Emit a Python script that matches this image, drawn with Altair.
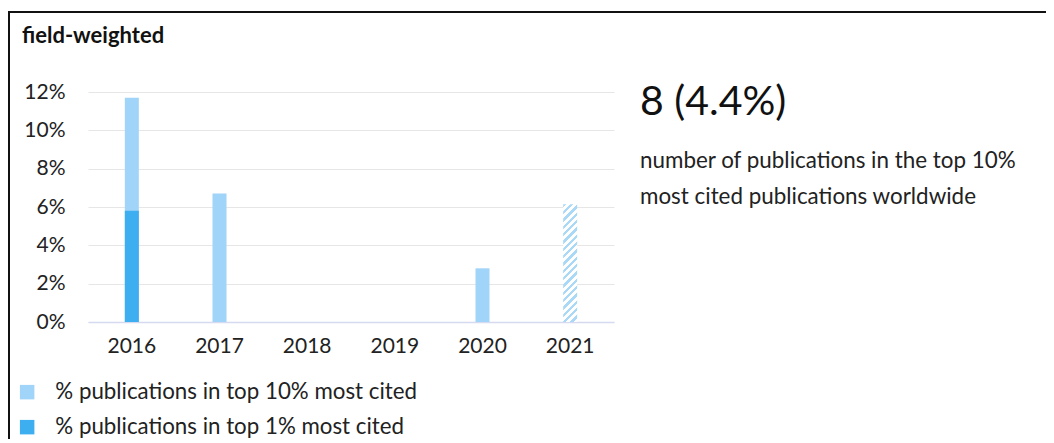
import altair as alt
import pandas as pd

years = ["2016", "2017", "2018", "2019", "2020", "2021"]
top10 = [11.7, 6.7, 0.0, 0.0, 2.8, 6.15]
top1 = [5.8, 0.0, 0.0, 0.0, 0.0, 0.0]
partial = [False, False, False, False, False, True]
series_keys = ["top10", "top1"]
series_names = ["% publications in top 10% most cited", "% publications in top 1% most cited"]
series_colors = ["#a0d4f8", "#3daef0"]
y_ticks = [0, 2, 4, 6, 8, 10, 12]
title_text = "field-weighted"
headline = "8 (4.4%)"
description = ["number of publications in the top 10%", "most cited publications worldwide"]

FONT = "Lato"

rows = []
for i, yr in enumerate(years):
    rows.append({"year": yr, "kind": "top10", "series": series_names[0], "value": top10[i], "partial": partial[i]})
    rows.append({"year": yr, "kind": "top1", "series": series_names[1], "value": top1[i], "partial": partial[i]})
df = pd.DataFrame(rows)

# hatched fill via hard-stop linear gradient
stops = []
n = 18
for k in range(n):
    a = k / n
    b = (k + 0.45) / n
    c = (k + 1) / n
    stops += [alt.GradientStop(offset=a, color="#a9d9f6"),
              alt.GradientStop(offset=b, color="#a9d9f6"),
              alt.GradientStop(offset=b, color="#ffffff"),
              alt.GradientStop(offset=c, color="#ffffff")]
hatch = alt.LinearGradient(gradient="linear", stops=stops, x1=0, y1=0, x2=0.1325, y2=1.104)

xenc = alt.X("year:N", title=None,
             scale=alt.Scale(domain=years, paddingInner=0, paddingOuter=0),
             axis=alt.Axis(labelAngle=0, ticks=False, labelPadding=13, labelFontSize=21,
                           labelFont=FONT, labelColor="#222222", domainColor="#d6daf0",
                           domainWidth=1.5, grid=False))
yenc = alt.Y("value:Q", title=None, stack=None,
             scale=alt.Scale(domain=[0, 12], nice=False),
             axis=alt.Axis(values=y_ticks, labelExpr="datum.value + '%'", domain=False, ticks=False,
                           labelPadding=23, labelFontSize=21, labelFont=FONT, labelColor="#222222",
                           gridColor="#e6e6e6", gridWidth=1))

color = alt.Color("series:N",
                  scale=alt.Scale(domain=series_names, range=series_colors),
                  legend=alt.Legend(title=None, orient="none", legendX=-72, legendY=289,
                                    symbolType="square", symbolSize=210, symbolStrokeWidth=0,
                                    labelFontSize=22.3, labelFont=FONT, labelColor="#222222",
                                    labelLimit=0, labelOffset=17, rowPadding=12,
                                    direction="vertical"))

base = alt.Chart(df).encode(x=xenc, y=yenc)

bars10 = base.transform_filter(
    (alt.datum.kind == "top10") & (alt.datum.partial == False)
).mark_bar(size=14).encode(color=color)

bars1 = base.transform_filter(
    (alt.datum.kind == "top1") & (alt.datum.partial == False)
).mark_bar(size=14).encode(color=color)

hatched = base.transform_filter(
    (alt.datum.kind == "top10") & (alt.datum.partial == True)
).mark_bar(size=14, color=hatch)

head = alt.Chart(pd.DataFrame({"t": [headline]})).mark_text(
    align="left", baseline="alphabetic", fontSize=41, font=FONT, color="#111111"
).encode(text="t:N", x=alt.value(552), y=alt.value(23))

desc1 = alt.Chart(pd.DataFrame({"t": [description[0]]})).mark_text(
    align="left", baseline="alphabetic", fontSize=22.4, font=FONT, color="#222222"
).encode(text="t:N", x=alt.value(552), y=alt.value(76))

desc2 = alt.Chart(pd.DataFrame({"t": [description[1]]})).mark_text(
    align="left", baseline="alphabetic", fontSize=22.4, font=FONT, color="#222222"
).encode(text="t:N", x=alt.value(552), y=alt.value(112))

ttl = alt.Chart(pd.DataFrame({"t": [title_text]})).mark_text(
    align="left", baseline="alphabetic", fontSize=22, font=FONT, fontWeight="bold", color="#111111"
).encode(text="t:N", x=alt.value(-66), y=alt.value(-49))

frame_left = alt.Chart(pd.DataFrame({"t": [0]})).mark_rule(color="#111111", strokeWidth=2).encode(
    x=alt.value(-79), y=alt.value(-81), y2=alt.value(350))
frame_top = alt.Chart(pd.DataFrame({"t": [0]})).mark_rule(color="#111111", strokeWidth=2).encode(
    x=alt.value(-80), x2=alt.value(970), y=alt.value(-80))

chart = alt.layer(bars10, bars1, hatched, head, desc1, desc2, ttl, frame_left, frame_top).properties(
    width=526, height=230,
    autosize=alt.AutoSizeParams(type="none"),
    padding={"left": 80, "top": 84, "right": 432, "bottom": 117},
).configure_view(stroke=None)

chart.save("out.html", embed_options={"renderer": "svg", "actions": False})
